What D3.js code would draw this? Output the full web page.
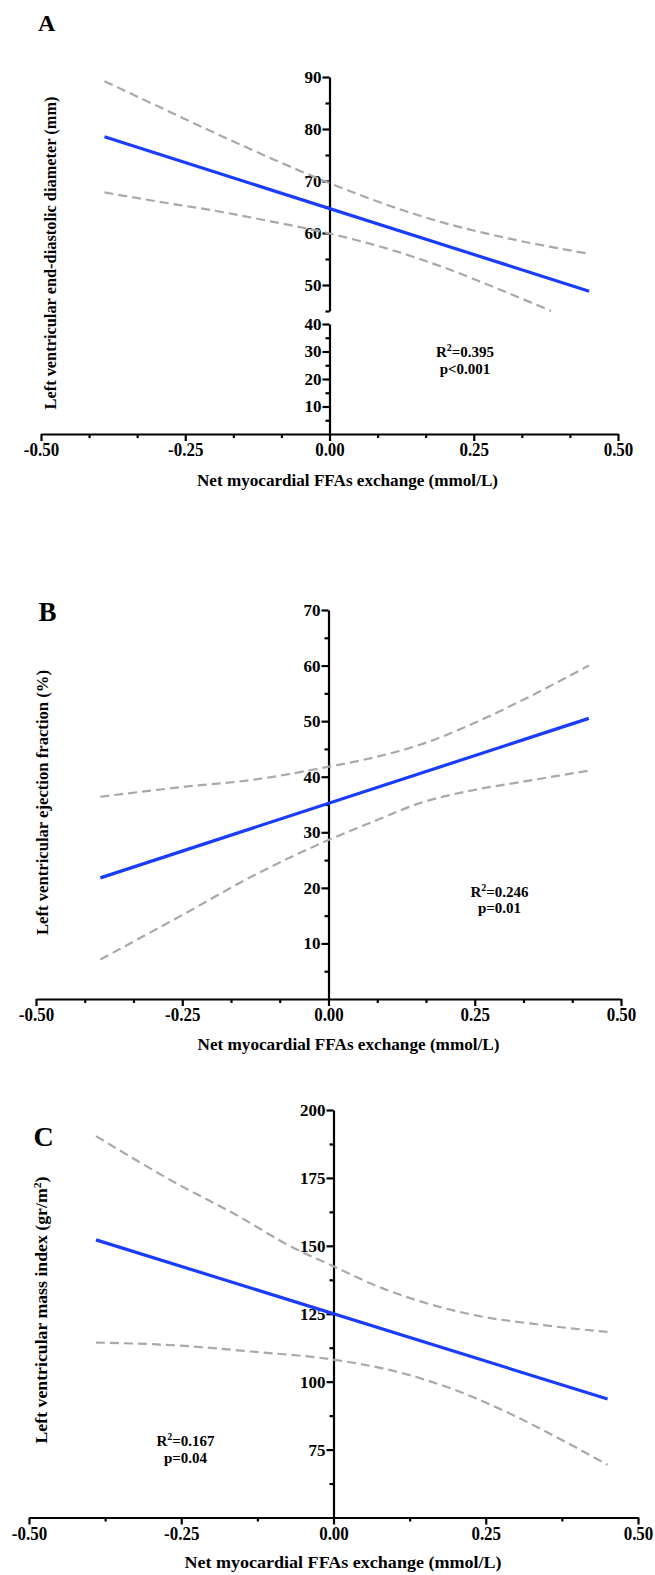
<!DOCTYPE html>
<html><head><meta charset="utf-8">
<script src="https://cdn.jsdelivr.net/npm/d3@7"></script>
<style>
body{margin:0;background:#fff}
svg{display:block;background:#fff}
text{font-family:"Liberation Serif","Times New Roman",serif;font-weight:bold;fill:#000}
</style></head>
<body><svg id="chart" width="655" height="1575"></svg>
<script>
// ---------- DATA ----------
const xDomain = [-0.5, 0.5];
const xTickValues = [-0.5, -0.25, 0, 0.25, 0.5];
const xTickLabels = ["-0.50", "-0.25", "0.00", "0.25", "0.50"];
const xMinorAB = [-5/12, -4/12, -2/12, -1/12, 1/12, 2/12, 4/12, 5/12];
const xMinorC = [-0.375, -0.125, 0.125, 0.375];
const xTitle = "Net myocardial FFAs exchange  (mmol/L)";

// Panel A
const yTicksAUpper = [50, 60, 70, 80, 90];
const yMinorAUpper = [45, 55, 65, 75, 85];
const yTicksALower = [10, 20, 30, 40];
const yMinorALower = [5, 15, 25, 35];
const fitXA = [-0.39, 0.45];
const fitYA = [78.5, 48.8];
const ciUpXA = [-0.39, -0.3, -0.2, -0.1, 0, 0.1, 0.2, 0.3, 0.45];
const ciUpYA = [89.2, 84.5, 79.3, 74.3, 69.6, 65.4, 61.9, 59.2, 56.0];
const ciLoXA = [-0.39, -0.3, -0.2, -0.1, 0, 0.1, 0.2, 0.3, 0.384];
const ciLoYA = [67.8, 66.1, 64.3, 62.2, 59.9, 57.0, 53.3, 48.9, 45.0];
const statsA = ["0.395", "p<0.001"];

// Panel B
const yTicksB = [10, 20, 30, 40, 50, 60, 70];
const yMinorB = [5, 15, 25, 35, 45, 55, 65];
const fitXB = [-0.39, 0.445];
const fitYB = [21.8, 50.5];
const ciXB = [-0.39, -0.245, -0.132, 0, 0.083, 0.155, 0.248, 0.332, 0.445];
const ciUpYB = [36.4, 38.2, 39.4, 41.8, 43.6, 45.7, 49.6, 53.8, 60.0];
const ciLoYB = [7.1, 15.4, 22.0, 28.6, 32.2, 35.2, 37.6, 39.1, 41.1];
const statsB = ["0.246", "p=0.01"];

// Panel C
const yTicksC = [75, 100, 125, 150, 175, 200];
const yMinorC = [62.5, 87.5, 112.5, 137.5, 162.5, 187.5];
const fitXC = [-0.39, 0.45];
const fitYC = [152.2, 93.6];
const ciUpXC = [-0.39, -0.253, -0.163, -0.067, 0, 0.071, 0.139, 0.229, 0.345, 0.45];
const ciUpYC = [190.4, 172.4, 161.8, 149.4, 142.5, 135.2, 129.8, 124.6, 120.8, 118.3];
const ciLoXC = [-0.39, -0.253, -0.136, 0, 0.105, 0.194, 0.277, 0.366, 0.45];
const ciLoYC = [114.4, 113.3, 111.1, 108.1, 103.6, 97.4, 89.6, 79.6, 69.4];
const statsC = ["0.167", "p=0.04"];

// ---------- DRAWING ----------
const svg = d3.select("#chart");
const BLUE = "#1a3cff", GREY = "#a9a9a9";
const AX_W = 2.2;

function styleAxis(g, fs) {
  g.attr("font-family", null).attr("font-size", null);
  g.selectAll(".domain").attr("stroke", "#000").attr("stroke-width", AX_W);
  g.selectAll(".tick line").attr("stroke", "#000").attr("stroke-width", AX_W);
  g.selectAll(".tick text").style("font-size", fs + "px");
}

function zip(xs, ys) { return xs.map((x, i) => [x, ys[i]]); }

function drawXAxis(x, yPos, minor) {
  const gm = svg.append("g").attr("transform", `translate(0,${yPos})`)
    .call(d3.axisBottom(x).tickValues(minor).tickFormat("").tickSize(4).tickSizeOuter(0));
  styleAxis(gm, 17); gm.select(".domain").remove();
  const g = svg.append("g").attr("transform", `translate(0,${yPos})`)
    .call(d3.axisBottom(x).tickValues(xTickValues).tickFormat((d, i) => xTickLabels[i])
      .tickSize(7).tickSizeOuter(0).tickPadding(3));
  styleAxis(g, 17);
  // labels in the reference are slightly stretched vertically
  g.selectAll(".tick text").attr("y", 0).attr("dy", 0)
    .attr("transform", "translate(0,22) scale(1,1.15)");
}

function drawYAxis(y, xPos, major, minor) {
  const gm = svg.append("g").attr("transform", `translate(${xPos},0)`)
    .call(d3.axisLeft(y).tickValues(minor).tickFormat("").tickSize(4).tickSizeOuter(0));
  styleAxis(gm, 17); gm.select(".domain").remove();
  const g = svg.append("g").attr("transform", `translate(${xPos},0)`)
    .call(d3.axisLeft(y).tickValues(major).tickSize(7).tickSizeOuter(0).tickPadding(1));
  styleAxis(g, 17);
}

function drawLines(x, y, fit, up, lo) {
  const line = d3.line().x(d => x(d[0])).y(d => y(d[1]));
  const curve = d3.line().x(d => x(d[0])).y(d => y(d[1])).curve(d3.curveMonotoneX);
  [up, lo].forEach(pts => svg.append("path").attr("d", curve(pts))
    .attr("fill", "none").attr("stroke", GREY).attr("stroke-width", 2.2)
    .attr("stroke-dasharray", "9,5"));
  svg.append("path").attr("d", line(fit)).attr("fill", "none")
    .attr("stroke", BLUE).attr("stroke-width", 3.2);
}

function letter(t, x, y, fs) {
  svg.append("text").attr("x", x).attr("y", y).style("font-size", fs + "px").text(t);
}
function xTitleText(cx, y, len) {
  svg.append("text").attr("x", cx).attr("y", y).attr("text-anchor", "middle")
    .attr("textLength", len).attr("lengthAdjust", "spacingAndGlyphs")
    .style("font-size", "17px").text(xTitle);
}
function yTitleText(cx, cy, len, parts) {
  const t = svg.append("text").attr("transform", `translate(${cx},${cy}) rotate(-90)`)
    .attr("text-anchor", "middle").attr("textLength", len).attr("lengthAdjust", "spacingAndGlyphs")
    .style("font-size", "16.5px");
  t.append("tspan").text(parts[0]);
  if (parts.length > 1) {
    t.append("tspan").attr("dy", -6).style("font-size", "11px").text(parts[1]);
    t.append("tspan").attr("dy", 6).text(parts[2]);
  }
}
function stats(cx, y1, y2, s) {
  const t = svg.append("text").attr("x", cx).attr("y", y1).attr("text-anchor", "middle")
    .style("font-size", "15px");
  t.append("tspan").text("R");
  t.append("tspan").attr("dy", -6).style("font-size", "10px").text("2");
  t.append("tspan").attr("dy", 6).text("=" + s[0]);
  svg.append("text").attr("x", cx).attr("y", y2).attr("text-anchor", "middle")
    .style("font-size", "15px").text(s[1]);
}

// ----- Panel A -----
{
  const x = d3.scaleLinear(xDomain, [41, 618]);
  const yU = d3.scaleLinear([45, 90], [311, 77]);
  const yL = d3.scaleLinear([0, 40], [434, 324]);
  drawXAxis(x, 434, xMinorAB);
  drawYAxis(yU, x(0), yTicksAUpper, yMinorAUpper);
  drawYAxis(yL, x(0), yTicksALower, yMinorALower);
  drawLines(x, yU, zip(fitXA, fitYA), zip(ciUpXA, ciUpYA), zip(ciLoXA, ciLoYA));
  letter("A", 38, 31, 24);
  xTitleText(347.5, 486, 301);
  yTitleText(56, 253, 313, ["Left ventricular end-diastolic diameter (mm)"]);
  stats(465, 357, 374, statsA);
}
// ----- Panel B -----
{
  const x = d3.scaleLinear(xDomain, [36, 621]);
  const y = d3.scaleLinear([0, 70], [999, 610]);
  drawXAxis(x, 999, xMinorAB);
  drawYAxis(y, x(0), yTicksB, yMinorB);
  drawLines(x, y, zip(fitXB, fitYB), zip(ciXB, ciUpYB), zip(ciXB, ciLoYB));
  letter("B", 38.5, 621, 27);
  xTitleText(348.5, 1050, 302);
  yTitleText(47.5, 802.5, 265, ["Left ventricular ejection fraction (%)"]);
  stats(499.5, 897, 913, statsB);
}
// ----- Panel C -----
{
  const x = d3.scaleLinear(xDomain, [29, 638]);
  const y = d3.scaleLinear([50, 200], [1517.5, 1110]);
  drawXAxis(x, 1517.5, xMinorC);
  drawYAxis(y, x(0), yTicksC, yMinorC);
  drawLines(x, y, zip(fitXC, fitYC), zip(ciUpXC, ciUpYC), zip(ciLoXC, ciLoYC));
  letter("C", 33.5, 1146, 28);
  xTitleText(343, 1568, 317);
  yTitleText(47, 1310, 267, ["Left ventricular mass index (gr/m", "2", ")"]);
  stats(185.5, 1446, 1463, statsC);
}
</script></body></html>
